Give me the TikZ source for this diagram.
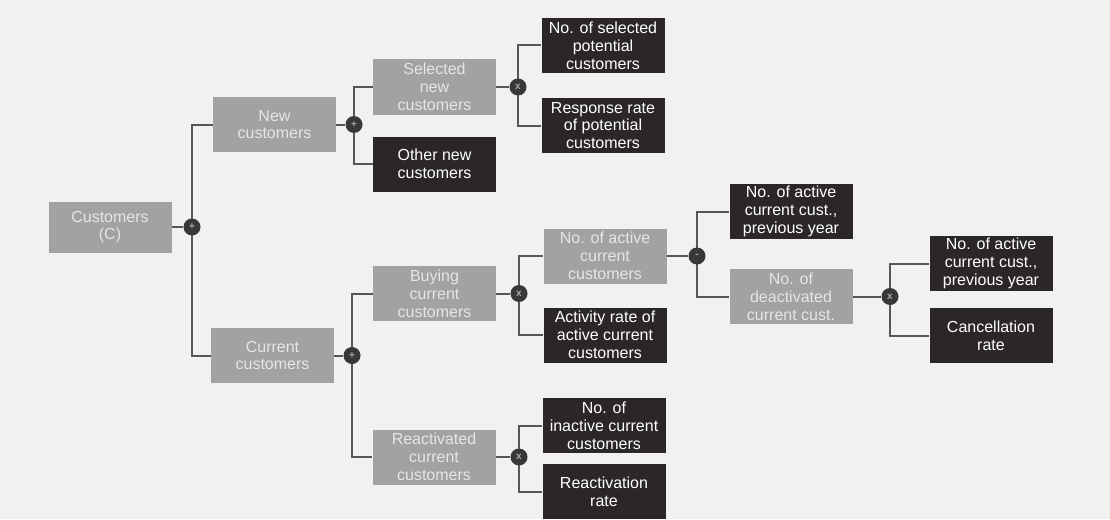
\documentclass[tikz,border=0pt]{standalone}
\usepackage{fontspec}
\setmainfont{Liberation Sans}
\definecolor{paperbg}{HTML}{F1F1EF}
\definecolor{boxgray}{HTML}{A3A1A1}
\definecolor{boxtext}{HTML}{E6E6E4}
\definecolor{boxdark}{HTML}{2B2727}
\definecolor{opfill}{HTML}{3A3737}
\definecolor{opsign}{HTML}{A8A8A8}
\definecolor{wire}{HTML}{585656}
\pgfdeclarelayer{paper}
\pgfdeclarelayer{wires}
\pgfsetlayers{paper,wires,main}
\tikzset{
  graybox/.style={fill=boxgray, text=boxtext, minimum width=123pt, minimum height=55pt,
    inner sep=0pt, align=center, font=\fontsize{16}{17.8}\selectfont},
  darkbox/.style={graybox, fill=boxdark, text=white},
  opnode/.style={circle, fill=opfill, minimum size=17pt, inner sep=0pt, text=opsign,
    font=\fontsize{10}{10}\selectfont\bfseries},
  link/.style={draw=wire, line width=2pt}
}
\begin{document}
\begin{tikzpicture}[x=1pt, y=-1pt]
\begin{pgfonlayer}{paper}
  \fill[paperbg] (0,0) rectangle (1110,519);
\end{pgfonlayer}
\useasboundingbox (0,0) rectangle (1110,519);

% level 0
\node[graybox, minimum height=51pt] (C) at (110,227) {Customers\\(C)};
\node[opnode] (opC) at (192,227) {+};

% level 1
\node[graybox] (N) at (274.5,124.5) {New\\customers};
\node[opnode] (opN) at (354,124.5) {+};
\node[graybox] (Cur) at (272.5,355.5) {Current\\customers};
\node[opnode] (opCur) at (352,355.5) {+};

% level 2
\node[graybox] (Sel) at (434.5,87) {Selected\\new\\customers};
\node[darkbox] (Oth) at (434.5,164) {Other new\\customers};
\node[opnode] (opSel) at (518,87) {x};
\node[graybox] (Buy) at (434.5,293.5) {Buying\\current\\customers};
\node[opnode] (opBuy) at (519,293.5) {x};
\node[graybox] (React) at (434,457) {Reactivated\\current\\customers};
\node[opnode] (opReact) at (519,457) {x};

% level 3
\node[darkbox] (NoSel) at (603,45.5) {No. of selected\\potential\\customers};
\node[darkbox] (Resp) at (603,125.5) {Response rate\\of potential\\customers};
\node[graybox] (Act) at (605,256) {No. of active\\current\\customers};
\node[opnode] (opAct) at (697,256) {-};
\node[darkbox] (ActR) at (605,335) {Activity rate of\\active current\\customers};
\node[darkbox] (Inact) at (604,425.5) {No. of\\inactive current\\customers};
\node[darkbox] (ReactR) at (604,491.5) {Reactivation\\rate};

% level 4
\node[darkbox] (Prev) at (791,211.5) {No. of active\\current cust.,\\previous year};
\node[graybox] (Deact) at (791,296.5) {No. of\\deactivated\\current cust.};
\node[opnode] (opDeact) at (890,296.5) {x};

% level 5
\node[darkbox] (Prev2) at (991,263.5) {No. of active\\current cust.,\\previous year};
\node[darkbox] (Canc) at (991,335.5) {Cancellation\\rate};

\begin{pgfonlayer}{wires}
  \draw[link] (C.east) -- (opC);
  \draw[link] (opC.center) |- (N.west);
  \draw[link] (opC.center) |- (Cur.west);

  \draw[link] (N.east) -- (opN);
  \draw[link] (opN.center) |- (Sel.west);
  \draw[link] (opN.center) |- (Oth.west);

  \draw[link] (Cur.east) -- (opCur);
  \draw[link] (opCur.center) |- (Buy.west);
  \draw[link] (opCur.center) |- (React.west);

  \draw[link] (Sel.east) -- (opSel);
  \draw[link] (opSel.center) |- (NoSel.west);
  \draw[link] (opSel.center) |- (Resp.west);

  \draw[link] (Buy.east) -- (opBuy);
  \draw[link] (opBuy.center) |- (Act.west);
  \draw[link] (opBuy.center) |- (ActR.west);

  \draw[link] (React.east) -- (opReact);
  \draw[link] (opReact.center) |- (Inact.west);
  \draw[link] (opReact.center) |- (ReactR.west);

  \draw[link] (Act.east) -- (opAct);
  \draw[link] (opAct.center) |- (Prev.west);
  \draw[link] (opAct.center) |- (Deact.west);

  \draw[link] (Deact.east) -- (opDeact);
  \draw[link] (opDeact.center) |- (Prev2.west);
  \draw[link] (opDeact.center) |- (Canc.west);
\end{pgfonlayer}
\end{tikzpicture}
\end{document}
